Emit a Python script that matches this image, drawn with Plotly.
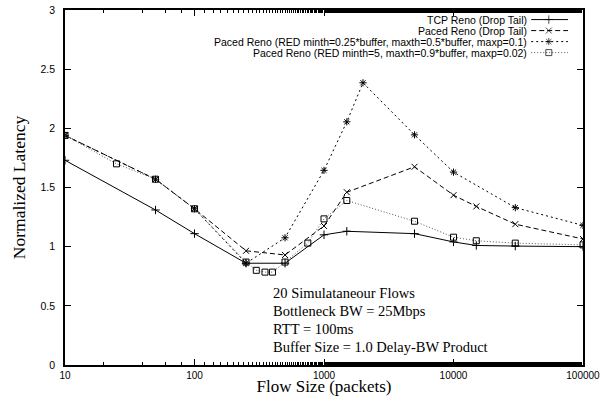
import plotly.graph_objects as go

# Flow sizes (packets) and normalized latency per scheme
tcp_x = [10, 50, 100, 250, 500, 1000, 1500, 5000, 10000, 15000, 30000, 100000]
tcp_y = [1.73, 1.31, 1.11, 0.86, 0.86, 1.10, 1.13, 1.11, 1.04, 1.01, 1.005, 1.0]

paced_x = [10, 50, 100, 250, 500, 1000, 1500, 5000, 10000, 15000, 30000, 100000]
paced_y = [1.94, 1.57, 1.32, 0.965, 0.93, 1.175, 1.46, 1.675, 1.435, 1.34, 1.19, 1.065]

red1_x = [10, 50, 100, 250, 500, 1000, 1500, 2000, 5000, 10000, 30000, 100000]
red1_y = [1.94, 1.57, 1.32, 0.86, 1.075, 1.645, 2.055, 2.385, 1.945, 1.63, 1.33, 1.18]

red2_x = [10, 25, 50, 100, 250, 300, 350, 400, 500, 750, 1000, 1500, 5000, 10000, 15000, 30000, 100000]
red2_y = [1.94, 1.70, 1.57, 1.32, 0.87, 0.80, 0.785, 0.785, 0.87, 1.03, 1.235, 1.39, 1.215, 1.08, 1.05, 1.03, 1.015]

x_ticks = [10, 100, 1000, 10000, 100000]
x_tick_text = ["10", "100", "1000", "10000", "100000"]
y_ticks = [0, 0.5, 1, 1.5, 2, 2.5, 3]
y_tick_text = ["0", "0.5", "1", "1.5", "2", "2.5", "3"]

names = [
    "TCP Reno (Drop Tail)",
    "Paced Reno (Drop Tail)",
    "Paced Reno (RED minth=0.25*buffer, maxth=0.5*buffer, maxp=0.1)",
    "Paced Reno (RED minth=5, maxth=0.9*buffer, maxp=0.02)",
]
notes = [
    "20 Simulataneour Flows",
    "Bottleneck BW = 25Mbps",
    "RTT = 100ms",
    "Buffer Size = 1.0 Delay-BW Product",
]

styles = [
    dict(color="black", dash="solid", symbol="cross-thin-open", size=6),
    dict(color="black", dash="5px,3px", symbol="x-thin-open", size=6),
    dict(color="black", dash="2px,3px", symbol="asterisk-open", size=6),
    dict(color="#555555", dash="1px,2px", symbol="square-open", size=6),
]
series = [(tcp_x, tcp_y), (paced_x, paced_y), (red1_x, red1_y), (red2_x, red2_y)]

SANS = "Liberation Sans, Arial, sans-serif"
SERIF = "Liberation Serif, Times New Roman, serif"

fig = go.Figure()
for (xs, ys), st in zip(series, styles):
    fig.add_trace(go.Scatter(
        x=xs, y=ys, mode="lines+markers", showlegend=False,
        line=dict(color=st["color"], dash=st["dash"], width=1),
        marker=dict(symbol=st["symbol"], size=st["size"], color="black",
                    line=dict(color="black", width=1)),
    ))

# Key in the upper right: text right-aligned, sample line to its right
row_y = [0.973, 0.942, 0.911, 0.880]
for name, st, ry in zip(names, styles, row_y):
    fig.add_trace(go.Scatter(
        x=[0.90, 0.934, 0.971], y=[ry, ry, ry], xaxis="x2", yaxis="y2",
        mode="lines+markers", showlegend=False, hoverinfo="skip",
        line=dict(color=st["color"], dash=st["dash"], width=1),
        marker=dict(symbol=st["symbol"], size=[0, st["size"], 0], color="black",
                    line=dict(color="black", width=1)),
    ))
    fig.add_annotation(x=0.894, y=ry, xref="paper", yref="paper", text=name,
                       showarrow=False, xanchor="right", yanchor="middle",
                       borderpad=0,
                       font=dict(family=SANS, size=10.5, color="black"))

for i, t in enumerate(notes):
    fig.add_annotation(x=0.398, y=0.203 - i * 0.0505, xref="paper", yref="paper",
                       text=t, showarrow=False, xanchor="left", yanchor="middle",
                       font=dict(family=SERIF, size=14.5, color="black"))

fig.update_layout(
    width=600, height=396,
    margin=dict(l=65, r=17, t=10, b=31),
    paper_bgcolor="white", plot_bgcolor="white",
    showlegend=False,
    xaxis=dict(
        type="log", range=[1, 5], showgrid=False, zeroline=False, automargin=False,
        showline=True, linecolor="black", linewidth=1.5, mirror="allticks",
        ticks="inside", ticklen=6, tickcolor="black",
        tickvals=x_ticks, ticktext=x_tick_text, ticklabeloverflow="allow",
        tickfont=dict(family=SANS, size=10, color="black"),
        minor=dict(ticks="inside", ticklen=3, tickcolor="black", showgrid=False),
        title=dict(text="Flow Size (packets)", standoff=3,
                   font=dict(family=SERIF, size=17, color="black")),
    ),
    yaxis=dict(
        range=[0, 3], showgrid=False, zeroline=False, automargin=False,
        showline=True, linecolor="black", linewidth=1.5, mirror="allticks",
        ticks="inside", ticklen=6, tickcolor="black",
        tickvals=y_ticks, ticktext=y_tick_text, ticklabelstandoff=6,
        tickfont=dict(family=SANS, size=10.5, color="black"),
        title=dict(text="Normalized Latency", standoff=10,
                   font=dict(family=SERIF, size=17.5, color="black")),
    ),
    xaxis2=dict(overlaying="x", range=[0, 1], visible=False, fixedrange=True),
    yaxis2=dict(overlaying="y", range=[0, 1], visible=False, fixedrange=True),
)

fig.write_html("out.html")
